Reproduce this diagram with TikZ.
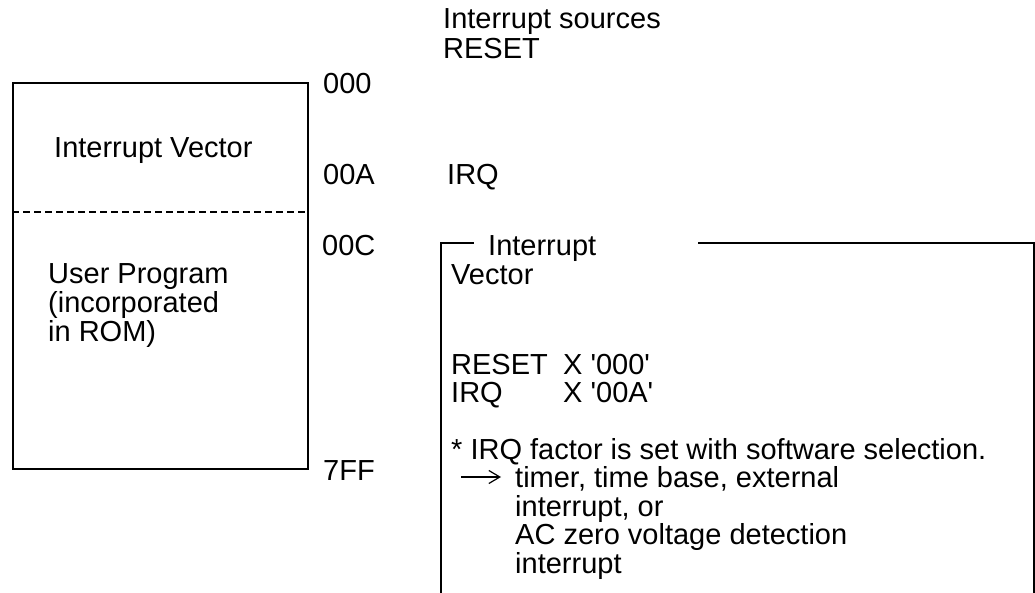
\documentclass[tikz,border=0pt]{standalone}
\usepackage{fontspec}
\newfontfamily\lsans{Liberation Sans}
\usetikzlibrary{arrows.meta}
\begin{document}
\begin{tikzpicture}[x=1pt,y=-1pt,
  txt/.style={anchor=base west,inner sep=0pt,font={\lsans\fontsize{29}{33}\selectfont}},
  frame/.style={line width=1.7pt,black},
  divider/.style={line width=1.4pt,black,dash pattern=on 7pt off 4pt},
  pointer/.style={line width=1.2pt,-{Straight Barb[length=11pt,width=13pt,line width=1.2pt]}}]
\useasboundingbox (0,0) rectangle (1035,593);
% memory map box
\node[frame,draw,anchor=north west,inner sep=0pt,minimum width=295pt,minimum height=386pt] (mem) at (12,82) {};
\coordinate (dl) at (12,212);
\coordinate (dr) at (307,212);
\draw[divider] (dl) -- (dr);
\node[txt] (iv) at (54,158) {Interrupt Vector};
\node[txt] (up1) at (48,284) {User Program};
\node[txt] (up2) at (48,312.5) {(incorporated};
\node[txt] (up3) at (48,341) {in ROM)};
% addresses
\node[txt] (a000) at (323,94) {000};
\node[txt] (a00A) at (323,185) {00A};
\node[txt] (a00C) at (322,256) {00C};
\node[txt] (a7FF) at (323,480) {7FF};
% interrupt sources
\node[txt] (srcT) at (443,29) {Interrupt sources};
\node[txt] (srcR) at (443,59) {RESET};
\node[txt] (srcI) at (447,185) {IRQ};
% right framed note
\coordinate (bl) at (441,593);
\coordinate (tl) at (441,243);
\coordinate (t1) at (474,243);
\coordinate (t2) at (698,243);
\coordinate (tr) at (1034,243);
\coordinate (br) at (1034,593);
\draw[frame] (bl) -- (tl) -- (t1);
\draw[frame] (t2) -- (tr) -- (br);
\node[txt] (ttl) at (488,256) {Interrupt};
\node[txt] (n1) at (451,284.5) {Vector};
\node[txt] (n2) at (451,374) {\makebox[112pt][l]{RESET}X '000'};
\node[txt] (n3) at (451,402.5) {\makebox[112pt][l]{IRQ}X '00A'};
\node[txt] (n4) at (451,459) {* IRQ factor is set with software selection.};
\coordinate (as) at (461,477);
\coordinate (ae) at (501,477);
\draw[pointer] (as) -- (ae);
\node[txt] (n5) at (515,487.5) {timer, time base, external};
\node[txt] (n6) at (515,516) {interrupt, or};
\node[txt] (n7) at (515,544.5) {AC zero voltage detection};
\node[txt] (n8) at (515,573) {interrupt};
\end{tikzpicture}
\end{document}
